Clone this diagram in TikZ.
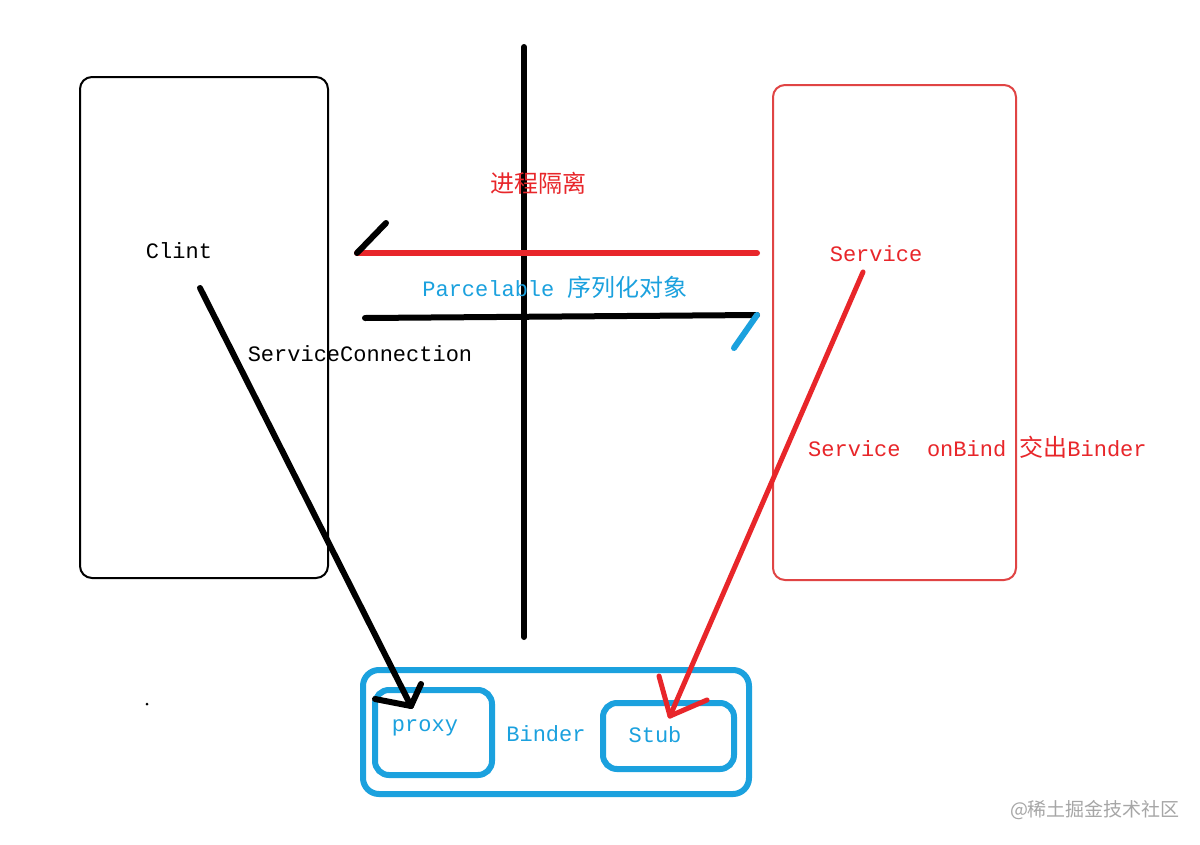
\documentclass[tikz,border=0pt]{standalone}
\usepackage{fontspec}
\setmainfont{Liberation Mono}
\newfontfamily\cjk{Noto Sans CJK SC}
\definecolor{myred}{HTML}{E8262A}
\definecolor{boxred}{HTML}{E04444}
\definecolor{myblue}{HTML}{1BA1DE}
\newcommand{\zh}[1]{{\cjk\fontsize{24}{28}\selectfont #1}}
\tikzset{
  txt/.style={inner sep=0pt, font=\fontsize{22}{26}\selectfont},
  thick line/.style={line width=6pt, line cap=round},
  boxline/.style={draw, rounded corners=12pt, line width=2pt, inner sep=0pt},
  bluebox/.style={draw=myblue, rounded corners=16pt, line width=6pt, inner sep=0pt},
}
\begin{document}
\begin{tikzpicture}[x=1pt,y=-1pt]
\useasboundingbox[fill=white] (0,0) rectangle (1200,844);
% process boxes
\node[boxline, draw=black, minimum width=248pt, minimum height=501pt] (client) at (204,327.5) {};
\node[boxline, draw=boxred, minimum width=243pt, minimum height=495pt] (service) at (894.5,332.5) {};
% isolation line
\coordinate (vtop) at (524,47);
\coordinate (vbot) at (524,637);
\draw[thick line, black] (vtop) -- (vbot);
% red line with black tick
\coordinate (rl) at (357,253);
\coordinate (rr) at (757,253);
\coordinate (rt) at (386,223);
\draw[thick line, myred] (rr) -- (rl);
\draw[thick line, black] (rl) -- (rt);
% black line with blue tick
\coordinate (bl) at (365,318);
\coordinate (br) at (757,315);
\coordinate (bt) at (734,348);
\draw[thick line, black] (bl) -- (br);
\draw[thick line, myblue] (br) -- (bt);
% texts
\node[txt, text=myred] (iso) at (538,183) {\zh{进程隔离}};
\node[txt, text=myblue] (parc) at (555,287) {Parcelable \zh{序列化对象}};
\node[txt] (clint) at (179,251) {Clint};
\node[txt] (sc) at (360,354) {ServiceConnection};
\node[txt, text=myred] (svc) at (876,254) {Service};
\node[txt, text=myred, anchor=west] (onbind) at (808,447) {Service\ \ onBind \zh{交出}Binder};
% binder boxes
\node[bluebox, minimum width=386pt, minimum height=124pt] (binder) at (556,732) {};
\node[bluebox, rounded corners=14pt, minimum width=117pt, minimum height=85pt] (proxybox) at (433.5,732.5) {};
\node[bluebox, rounded corners=14pt, minimum width=131pt, minimum height=66pt] (stubbox) at (668.5,736) {};
\node[txt, text=myblue] (proxy) at (425,728) {proxy};
\node[txt, text=myblue] (bindert) at (546,734) {Binder};
\node[txt, text=myblue] (stub) at (655,735) {Stub};
% black arrow
\coordinate (ka) at (200,288);
\coordinate (kb) at (411,706);
\coordinate (kh1) at (375,699);
\coordinate (kh2) at (421,684);
\draw[thick line, black, line join=round] (ka) -- (kb);
\draw[thick line, black, line join=round] (kh1) -- (kb) -- (kh2);
% red arrow
\coordinate (ra) at (863,272);
\coordinate (rb) at (670,716);
\coordinate (rh1) at (659,676);
\coordinate (rh2) at (707,700);
\draw[line width=5pt, line cap=round, myred] (ra) -- (rb);
\draw[line width=5pt, line cap=round, line join=round, myred] (rh1) -- (rb) -- (rh2);
% dot
\fill[black] (147,704) circle (1.5pt);
% watermark
\node[inner sep=0pt, text=black!35, font=\cjk\fontsize{19}{22}\selectfont] (wm) at (1095,810) {@稀土掘金技术社区};
\end{tikzpicture}
\end{document}
